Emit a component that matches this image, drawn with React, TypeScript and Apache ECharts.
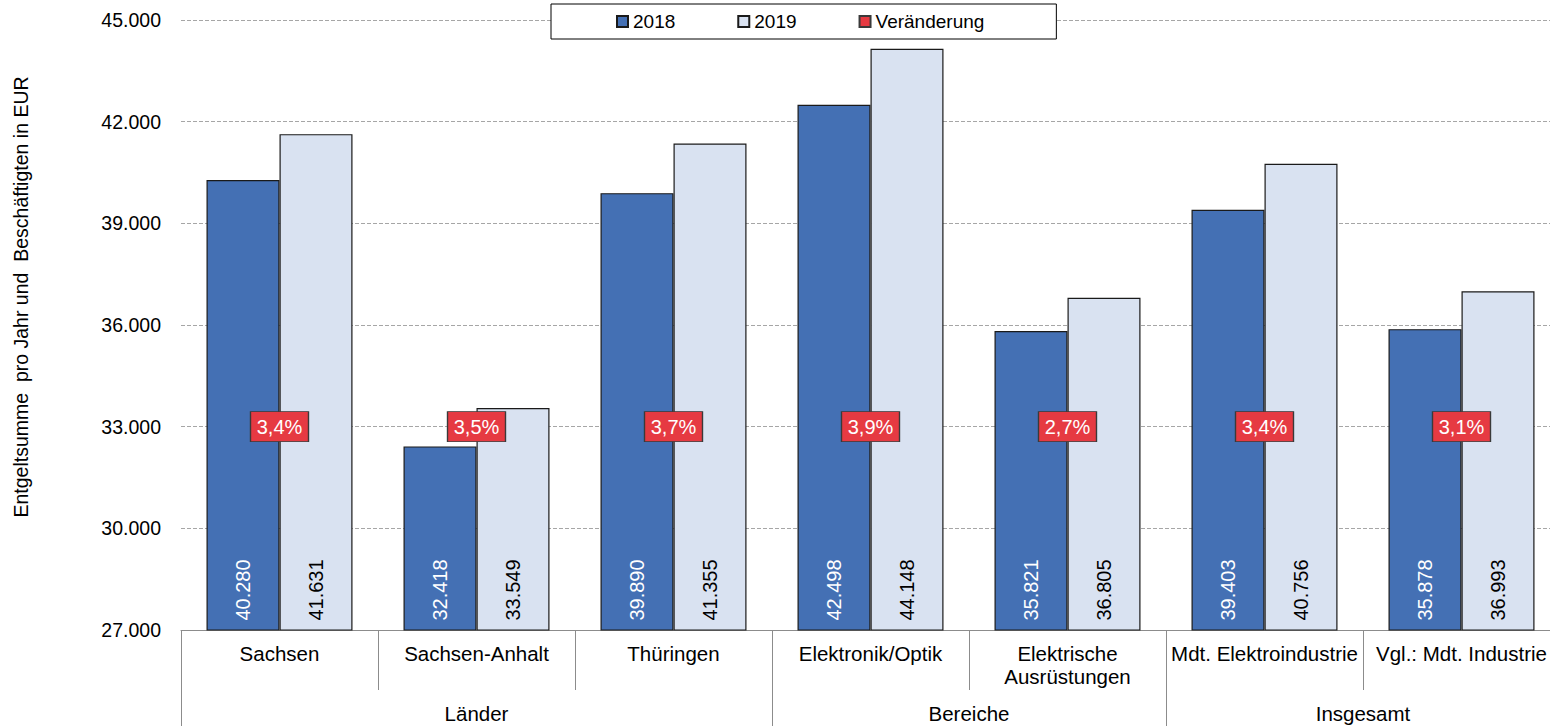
import React, { useEffect, useRef } from "react";
import * as echarts from "echarts";

const categories = [
  "Sachsen",
  "Sachsen-Anhalt",
  "Thüringen",
  "Elektronik/Optik",
  "Elektrische\nAusrüstungen",
  "Mdt. Elektroindustrie",
  "Vgl.: Mdt. Industrie",
];
const values2018 = [40280, 32418, 39890, 42498, 35821, 39403, 35878];
const values2019 = [41631, 33549, 41355, 44148, 36805, 40756, 36993];
const changePct = [3.4, 3.5, 3.7, 3.9, 2.7, 3.4, 3.1];
const groups = ["Länder", "Bereiche", "Insgesamt"];
const groupSizes = [3, 2, 2];
const Y_MIN = 27000;
const Y_MAX = 45000;
const Y_STEP = 3000;
const CHANGE_LABEL_Y = 33000;
const yAxisTitle = "Entgeltsumme  pro Jahr und  Beschäftigten in EUR";

const FONT = "'Liberation Sans', Arial, Helvetica, sans-serif";

const fmtDE = (n: number) =>
  String(Math.round(n)).replace(/\B(?=(\d{3})+(?!\d))/g, ".");
const fmtPct = (p: number) => p.toFixed(1).replace(".", ",") + "%";

export default function App() {
  const ref = useRef<HTMLDivElement>(null);

  useEffect(() => {
    if (!ref.current) return;
    const chart = echarts.init(ref.current, undefined, { renderer: "svg" });

    // group positions on a secondary value axis (2 units per category)
    const boundaries: number[] = [0];
    const centers: number[] = [];
    let acc = 0;
    groupSizes.forEach((s) => {
      centers.push((acc + s / 2) * 2);
      acc += s;
      boundaries.push(acc * 2);
    });
    const groupLabelMap: Record<number, string> = {};
    centers.forEach((c, i) => (groupLabelMap[c] = groups[i]));

    const option: any = {
      animation: false,
      backgroundColor: "#ffffff",
      textStyle: { fontFamily: FONT },
      grid: { left: 181, top: 20, right: 0, bottom: 96, containLabel: false },
      legend: {
        left: 551,
        top: 4,
        padding: [8, 72, 8, 65],
        itemGap: 62,
        itemWidth: 11,
        itemHeight: 11,
        backgroundColor: "#ffffff",
        borderColor: "#000000",
        borderWidth: 1,
        borderRadius: 0,
        textStyle: { fontSize: 19, color: "#000", fontFamily: FONT },
        data: [
          { name: "2018", icon: "rect" },
          { name: "2019", icon: "rect" },
          { name: "Veränderung", icon: "rect" },
        ],
      },
      xAxis: [
        {
          type: "category",
          data: categories,
          axisLine: { show: true, lineStyle: { color: "#8c8c8c", width: 1 } },
          axisTick: {
            show: true,
            interval: 0,
            length: 60,
            lineStyle: { color: "#8c8c8c", width: 1 },
          },
          axisLabel: {
            interval: 0,
            fontSize: 20.5,
            lineHeight: 23,
            color: "#000",
            margin: 12,
            fontFamily: FONT,
          },
          splitLine: { show: false },
        },
        {
          type: "value",
          min: 0,
          max: 14,
          position: "bottom",
          axisLine: { show: false },
          splitLine: { show: false },
          axisTick: {
            show: true,
            customValues: boundaries,
            length: 96,
            lineStyle: { color: "#8c8c8c", width: 1 },
          },
          axisLabel: {
            show: true,
            customValues: centers,
            formatter: (v: number) => groupLabelMap[v] ?? "",
            fontSize: 20.5,
            color: "#000",
            margin: 73,
            fontFamily: FONT,
          },
        },
      ],
      yAxis: {
        type: "value",
        min: Y_MIN,
        max: Y_MAX,
        interval: Y_STEP,
        axisLine: { show: false },
        axisTick: { show: false },
        axisLabel: {
          formatter: (v: number) => fmtDE(v),
          fontSize: 19.5,
          color: "#000",
          margin: 20,
          fontFamily: FONT,
        },
        splitLine: {
          show: true,
          lineStyle: { color: "#a6a6a6", type: [4, 2], width: 1 },
        },
      },
      graphic: [
        {
          type: "text",
          x: 21,
          y: 297,
          rotation: Math.PI / 2,
          style: {
            text: yAxisTitle,
            fontSize: 19.5,
            fontFamily: FONT,
            fill: "#000",
            align: "center",
            verticalAlign: "middle",
          },
        },
      ],
      series: [
        {
          name: "2018",
          type: "bar",
          data: values2018,
          barWidth: 73,
          barGap: "0%",
          itemStyle: { color: "#4470B4", borderColor: "#1a1a1a", borderWidth: 1.2 },
          label: {
            show: true,
            position: "insideBottom",
            rotate: 90,
            align: "left",
            verticalAlign: "middle",
            distance: 10,
            fontSize: 20,
            color: "#ffffff",
            fontFamily: FONT,
            formatter: (p: any) => fmtDE(p.value),
          },
        },
        {
          name: "2019",
          type: "bar",
          data: values2019,
          barWidth: 73,
          barGap: "0%",
          itemStyle: { color: "#D9E2F1", borderColor: "#1a1a1a", borderWidth: 1.2 },
          label: {
            show: true,
            position: "insideBottom",
            rotate: 90,
            align: "left",
            verticalAlign: "middle",
            distance: 10,
            fontSize: 20,
            color: "#000000",
            fontFamily: FONT,
            formatter: (p: any) => fmtDE(p.value),
          },
        },
        {
          name: "Veränderung",
          type: "scatter",
          z: 5,
          symbol: "rect",
          symbolSize: [58, 30],
          data: changePct.map((p, i) => [i, CHANGE_LABEL_Y, p]),
          itemStyle: { color: "#E63A42", borderColor: "#3a3a3a", borderWidth: 1, opacity: 1 },
          label: {
            show: true,
            position: "inside",
            fontSize: 20,
            color: "#ffffff",
            fontFamily: FONT,
            formatter: (p: any) => fmtPct(p.value[2]),
          },
          emphasis: { disabled: true },
        },
      ],
    };

    chart.setOption(option);
    return () => chart.dispose();
  }, []);

  return (
    <div
      ref={ref}
      style={{ position: "fixed", left: 0, top: 0, width: 1560, height: 726, background: "#fff" }}
    />
  );
}
